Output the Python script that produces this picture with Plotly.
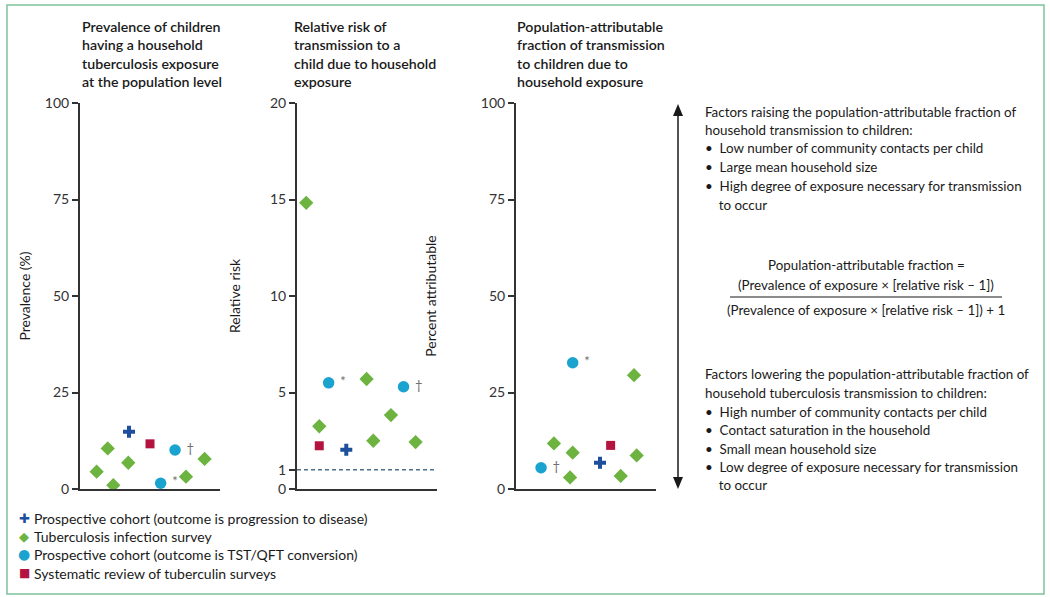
import plotly.graph_objects as go

W, H = 1050, 597

# ---------------- data ----------------
# Panel 1: prevalence of household exposure (%)
prev_cross_x = [3.5];                     prev_cross_y = [14.8]
prev_diamond_x = [1.19, 1.98, 2.38, 3.45, 7.57, 8.9]
prev_diamond_y = [4.5, 10.5, 1.0, 6.8, 3.2, 7.8]
prev_circle_x = [6.79, 5.76];             prev_circle_y = [10.1, 1.5]
prev_circle_mark = ["†", "*"]
prev_square_x = [5.0];                    prev_square_y = [11.7]

# Panel 2: relative risk
rr_cross_x = [3.52];                      rr_cross_y = [2.04]
rr_diamond_x = [0.66, 1.59, 4.97, 5.45, 6.71, 8.47]
rr_diamond_y = [14.83, 3.25, 5.7, 2.5, 3.83, 2.43]
rr_circle_x = [2.26, 7.61];               rr_circle_y = [5.5, 5.3]
rr_circle_mark = ["*", "†"]
rr_square_x = [1.59];                     rr_square_y = [2.24]
rr_reference = 1

# Panel 3: population-attributable fraction (%)
paf_cross_x = [6.0];                      paf_cross_y = [6.8]
paf_diamond_x = [2.71, 3.86, 4.05, 7.48, 8.43, 8.62]
paf_diamond_y = [11.8, 3.0, 9.4, 3.4, 29.5, 8.7]
paf_circle_x = [4.05, 1.79];              paf_circle_y = [32.7, 5.5]
paf_circle_mark = ["*", "†"]
paf_square_x = [6.76];                    paf_square_y = [11.3]

prev_ticks = [0, 25, 50, 75, 100]
rr_ticks = [0, 1, 5, 10, 15, 20]
paf_ticks = [0, 25, 50, 75, 100]

series_names = [
    "Prospective cohort (outcome is progression to disease)",
    "Tuberculosis infection survey",
    "Prospective cohort (outcome is TST/QFT conversion)",
    "Systematic review of tuberculin surveys",
]

panel_titles = [
    "Prevalence of children<br>having a household<br>tuberculosis exposure<br>at the population level",
    "Relative risk of<br>transmission to a<br>child due to household<br>exposure",
    "Population-attributable<br>fraction of transmission<br>to children due to<br>household exposure",
]
axis_titles = ["Prevalence (%)", "Relative risk", "Percent attributable"]

raising_lines = [
    "Factors raising the population-attributable fraction of",
    "household transmission to children:",
    "•  Low number of community contacts per child",
    "•  Large mean household size",
    "•  High degree of exposure necessary for transmission",
    "    to occur",
]
lowering_lines = [
    "Factors lowering the population-attributable fraction of",
    "household tuberculosis transmission to children:",
    "•  High number of community contacts per child",
    "•  Contact saturation in the household",
    "•  Small mean household size",
    "•  Low degree of exposure necessary for transmission",
    "    to occur",
]
formula_head = "Population-attributable fraction ="
formula_num = "(Prevalence of exposure × [relative risk – 1])"
formula_den = "(Prevalence of exposure × [relative risk – 1]) + 1"

# ---------------- styling ----------------
FONT = "Lato"
TXT = "#1a1a1a"
BLUE = "#1d4f9c"
GREEN = "#6cb33f"
CYAN = "#1ba3cf"
RED = "#b4123f"
AXC = "#333333"
BORDER = "#7cc39a"
SYMBOLS = ["cross", "diamond", "circle", "square"]
COLORS = [BLUE, GREEN, CYAN, RED]
SIZES = [10, 11, 11.5, 9]
GLYPHS = ["✚", "◆", "●", "■"]
GLYPH_SIZES = [13, 13, 14, 12]


def px(x):
    return x / W


def py(y):
    return 1 - y / H


fig = go.Figure()

panels = [
    ("x", "y", [(prev_cross_x, prev_cross_y), (prev_diamond_x, prev_diamond_y),
                (prev_circle_x, prev_circle_y), (prev_square_x, prev_square_y)], prev_circle_mark),
    ("x2", "y2", [(rr_cross_x, rr_cross_y), (rr_diamond_x, rr_diamond_y),
                  (rr_circle_x, rr_circle_y), (rr_square_x, rr_square_y)], rr_circle_mark),
    ("x3", "y3", [(paf_cross_x, paf_cross_y), (paf_diamond_x, paf_diamond_y),
                  (paf_circle_x, paf_circle_y), (paf_square_x, paf_square_y)], paf_circle_mark),
]

for xa, ya, groups, marks in panels:
    for k, (xs, ys) in enumerate(groups):
        kw = {}
        mode = "markers"
        if k == 2:
            mode = "markers+text"
            kw = dict(text=[" " + m for m in marks],
                      textposition="middle right",
                      textfont=dict(family=FONT, size=13, color="#6e6e6e"))
        fig.add_trace(go.Scatter(x=xs, y=ys, xaxis=xa, yaxis=ya, mode=mode, name=series_names[k],
                                 marker=dict(symbol=SYMBOLS[k], size=SIZES[k], color=COLORS[k], line=dict(width=0)),
                                 showlegend=False, **kw))

# axes
y_top, y_bot = 103, 489
axis_left = [80, 297, 516]
axis_w = 140
yranges = [[0, 100], [0, 20], [0, 100]]
yticks = [prev_ticks, rr_ticks, paf_ticks]
standoffs = [11, 26, 41]

for i in range(3):
    sfx = "" if i == 0 else str(i + 1)
    fig.layout["xaxis" + sfx] = dict(
        domain=[px(axis_left[i]), px(axis_left[i] + axis_w)], range=[0, 10],
        showline=True, linecolor=AXC, linewidth=2, showticklabels=False, ticks="",
        showgrid=False, zeroline=False, anchor="y" + sfx, fixedrange=True, automargin=False)
    fig.layout["yaxis" + sfx] = dict(
        domain=[py(y_bot), py(y_top)], range=yranges[i],
        showline=True, linecolor=AXC, linewidth=2, ticks="outside", ticklen=6, tickwidth=1.5,
        tickcolor=AXC, tickvals=yticks[i], ticktext=[str(t) for t in yticks[i]],
        tickfont=dict(family=FONT, size=14, color=AXC),
        title=dict(text=axis_titles[i], font=dict(family=FONT, size=14, color=TXT), standoff=standoffs[i]),
        showgrid=False, zeroline=False, anchor="x" + sfx, fixedrange=True, automargin=False)

# dashed reference line at relative risk = 1
fig.add_shape(type="line", xref="x2", yref="y2", x0=0, x1=10, y0=rr_reference, y1=rr_reference,
              line=dict(color="#4c6f8f", width=1.5, dash="4px,3px"))

annotations = []
title_x = [80, 292, 515]
for i in range(3):
    annotations.append(dict(text=panel_titles[i], x=px(title_x[i]), y=py(16), xref="paper", yref="paper",
                            xanchor="left", yanchor="top", align="left", showarrow=False,
                            font=dict(family=FONT, size=14.2, color=TXT, weight=600)))

# right-hand explanatory text
BODY = 13.4
raise_y = [112, 130, 148, 167, 186, 205]
for t, yy in zip(raising_lines, raise_y):
    annotations.append(dict(text=t, x=px(703), y=py(yy), xref="paper", yref="paper", xanchor="left",
                            yanchor="middle", showarrow=False, font=dict(family=FONT, size=BODY, color=TXT)))
lower_y = [374, 393, 412, 430, 449, 467, 485]
for t, yy in zip(lowering_lines, lower_y):
    annotations.append(dict(text=t, x=px(703), y=py(yy), xref="paper", yref="paper", xanchor="left",
                            yanchor="middle", showarrow=False, font=dict(family=FONT, size=BODY, color=TXT)))
for t, yy in zip([formula_head, formula_num, formula_den], [265, 285, 310]):
    annotations.append(dict(text=t, x=px(866), y=py(yy), xref="paper", yref="paper", xanchor="center",
                            yanchor="middle", showarrow=False, font=dict(family=FONT, size=BODY, color=TXT)))

# key (legend) for the four study types
legend_y = [518, 536, 554, 573]
for k in range(4):
    annotations.append(dict(text=GLYPHS[k], x=px(24), y=py(legend_y[k]), xref="paper", yref="paper",
                            xanchor="center", yanchor="middle", showarrow=False,
                            font=dict(family="DejaVu Sans", size=GLYPH_SIZES[k], color=COLORS[k])))
    annotations.append(dict(text=series_names[k], x=px(32), y=py(legend_y[k]), xref="paper", yref="paper",
                            xanchor="left", yanchor="middle", showarrow=False,
                            font=dict(family=FONT, size=14, color=TXT)))

shapes = list(fig.layout.shapes)
# fraction bar
shapes.append(dict(type="line", xref="paper", yref="paper", x0=px(730), x1=px(1002), y0=py(297), y1=py(297),
                   line=dict(color=TXT, width=1.2)))
# double-headed vertical arrow
shapes.append(dict(type="line", xref="paper", yref="paper", x0=px(678), x1=px(678), y0=py(112), y1=py(483),
                   line=dict(color=TXT, width=1.5)))
shapes.append(dict(type="path", xref="paper", yref="paper",
                   path=f"M {px(678)} {py(104)} L {px(673)} {py(116)} L {px(683)} {py(116)} Z",
                   fillcolor=TXT, line=dict(width=0)))
shapes.append(dict(type="path", xref="paper", yref="paper",
                   path=f"M {px(678)} {py(489)} L {px(673)} {py(477)} L {px(683)} {py(477)} Z",
                   fillcolor=TXT, line=dict(width=0)))
# outer frame
shapes.append(dict(type="rect", xref="paper", yref="paper", x0=px(7), x1=px(1044), y0=py(594), y1=py(5),
                   line=dict(color=BORDER, width=1.5)))

fig.update_layout(
    template="none",
    width=W, height=H, margin=dict(l=0, r=0, t=0, b=0, autoexpand=False),
    paper_bgcolor="white", plot_bgcolor="white",
    annotations=annotations, shapes=shapes,
    showlegend=False,
    font=dict(family=FONT),
)

fig.write_html("out.html", config={"displayModeBar": False},
               post_script="document.body.style.margin='0';document.body.style.overflow='hidden';")
